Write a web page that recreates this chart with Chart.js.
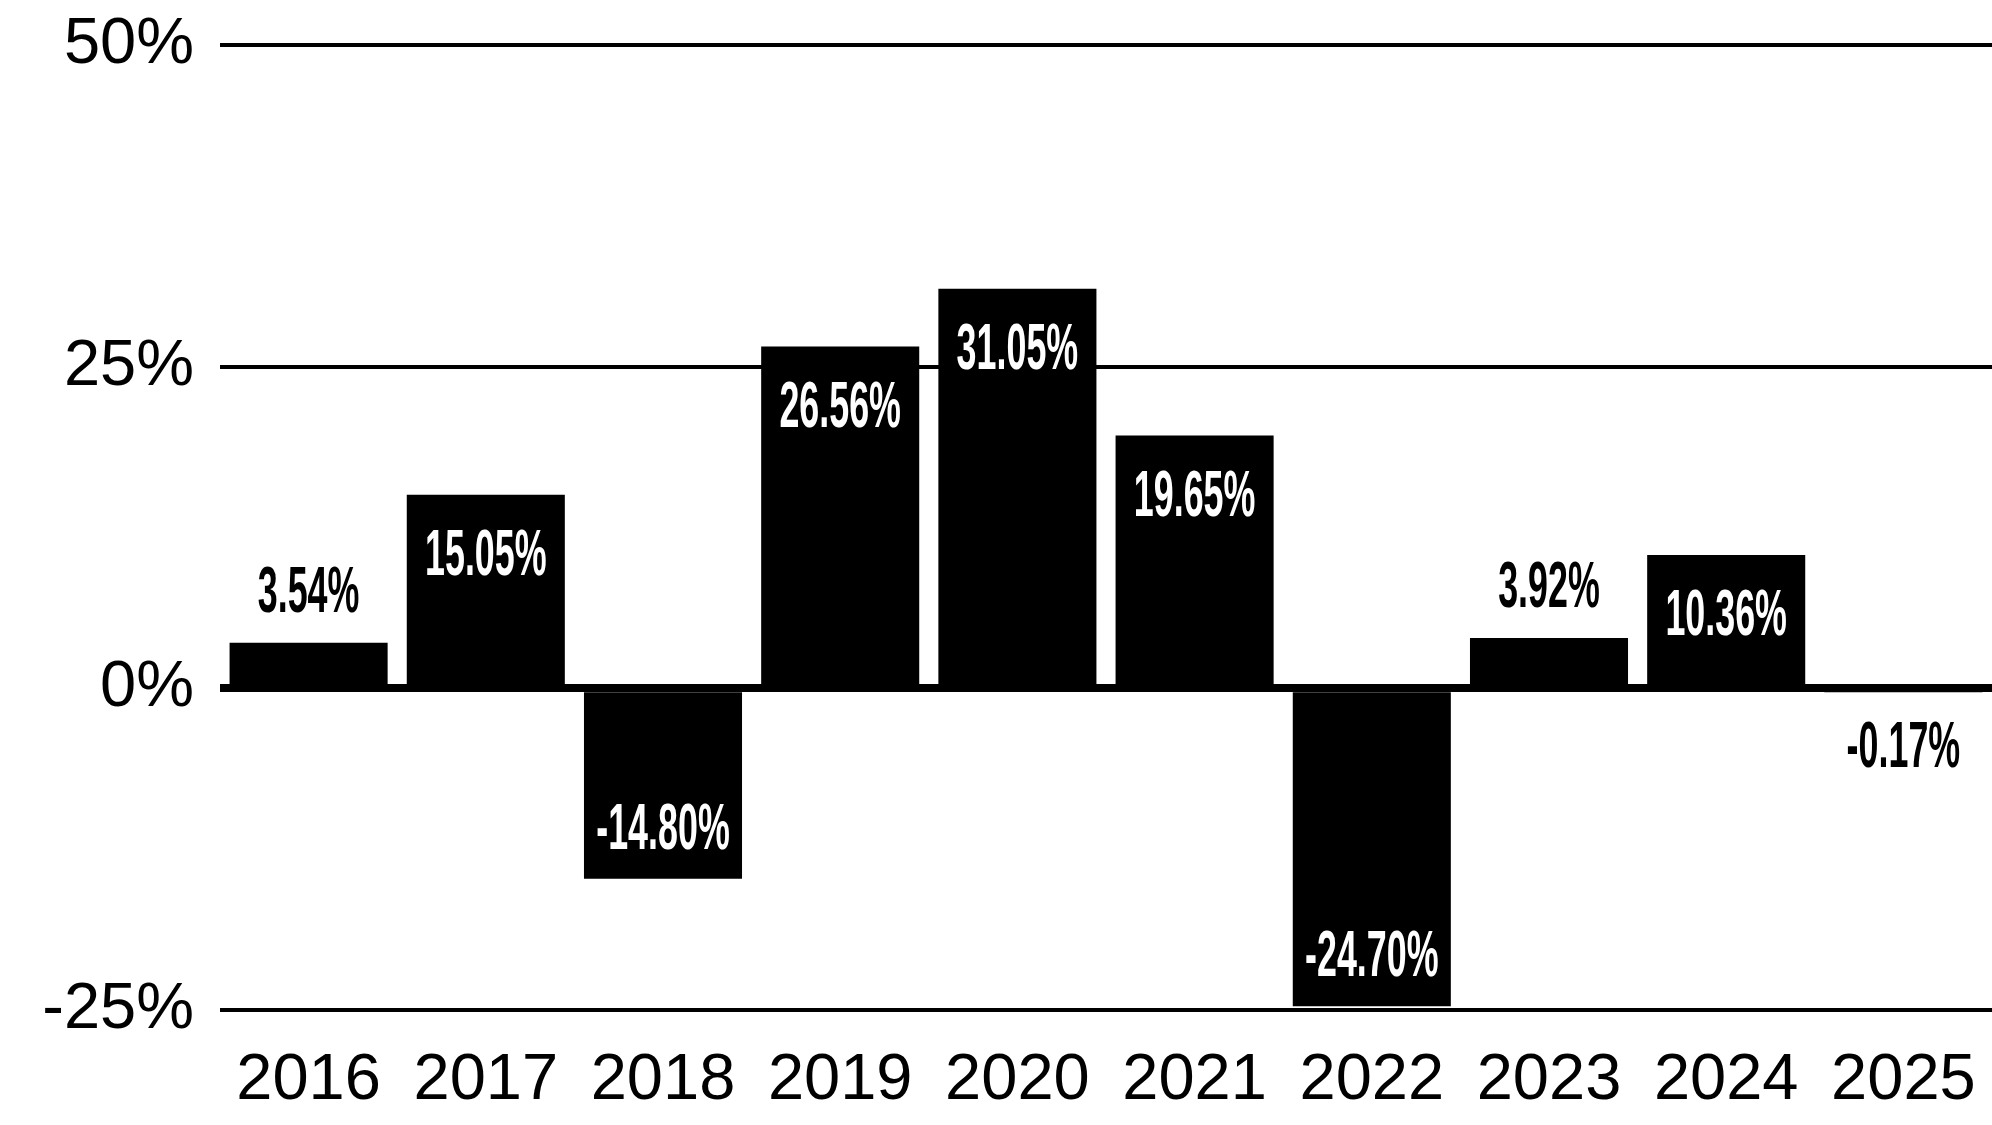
<!DOCTYPE html>
<html>
<head>
<meta charset="utf-8">
<script src="https://cdn.jsdelivr.net/npm/chart.js@4.4.1/dist/chart.umd.min.js"></script>
<style>
  html, body { margin: 0; padding: 0; background: #fff; }
  canvas { display: block; }
</style>
</head>
<body>
<canvas id="myChart" width="1992" height="1125"></canvas>
<script>
// data
const years = ['2016', '2017', '2018', '2019', '2020', '2021', '2022', '2023', '2024', '2025'];
const returns = [3.54, 15.05, -14.80, 26.56, 31.05, 19.65, -24.70, 3.92, 10.36, -0.17];
const yTicks = [-25, 0, 25, 50];

// value labels: condensed look, white inside tall bars, black outside small ones
const valueLabels = {
  id: 'valueLabels',
  afterDatasetsDraw(chart) {
    const ctx = chart.ctx;
    const meta = chart.getDatasetMeta(0);
    ctx.save();
    ctx.font = 'bold 64px "Liberation Sans", Arial, sans-serif';
    ctx.textAlign = 'center';
    ctx.textBaseline = 'alphabetic';
    meta.data.forEach((bar, i) => {
      const v = returns[i];
      const inside = Math.abs(v) > 6;
      let baseline;
      if (v >= 0) {
        baseline = inside ? bar.y + 80 : bar.y - 31;
      } else {
        baseline = inside ? bar.y - 30 : bar.y + 76;
      }
      ctx.fillStyle = inside ? '#fff' : '#000';
      ctx.save();
      ctx.translate(bar.x, baseline);
      ctx.scale(0.56, 1);
      ctx.fillText(v.toFixed(2) + '%', 0, 0);
      ctx.restore();
    });
    ctx.restore();
  }
};

const ctx = document.getElementById('myChart').getContext('2d');

const myChart = new Chart(ctx, {
  type: 'bar',
  data: {
    labels: years,
    datasets: [{
      data: returns,
      backgroundColor: '#000',
      borderWidth: 0,
      categoryPercentage: 1,
      barPercentage: 0.892
    }]
  },
  options: {
    responsive: false,
    devicePixelRatio: 1,
    animation: false,
    layout: {
      padding: { top: 45, right: 0, bottom: 0, left: 0 }
    },
    scales: {
      y: {
        min: -25,
        max: 50,
        afterBuildTicks: (scale) => {
          scale.ticks = yTicks.map(v => ({ value: v }));
        },
        afterFit: (scale) => {
          scale.width = 220;
          scale.paddingTop = 0;
          scale.paddingBottom = 0;
        },
        grid: {
          color: '#000',
          lineWidth: (c) => (c.tick && c.tick.value === 0 ? 8 : 4),
          drawTicks: false
        },
        border: { display: false },
        ticks: {
          padding: 26,
          color: '#000',
          font: { family: '"Liberation Sans", Arial, sans-serif', size: 65 },
          callback: (v) => v + '%'
        }
      },
      x: {
        afterFit: (scale) => {
          scale.height = 115;
          scale.paddingLeft = 0;
          scale.paddingRight = 0;
        },
        grid: { display: false, drawTicks: false },
        border: { display: false },
        ticks: {
          padding: 32,
          color: '#000',
          maxRotation: 0,
          font: { family: '"Liberation Sans", Arial, sans-serif', size: 65 }
        }
      }
    },
    plugins: {
      legend: { display: false },
      tooltip: { enabled: false }
    }
  },
  plugins: [valueLabels]
});
</script>
</body>
</html>
